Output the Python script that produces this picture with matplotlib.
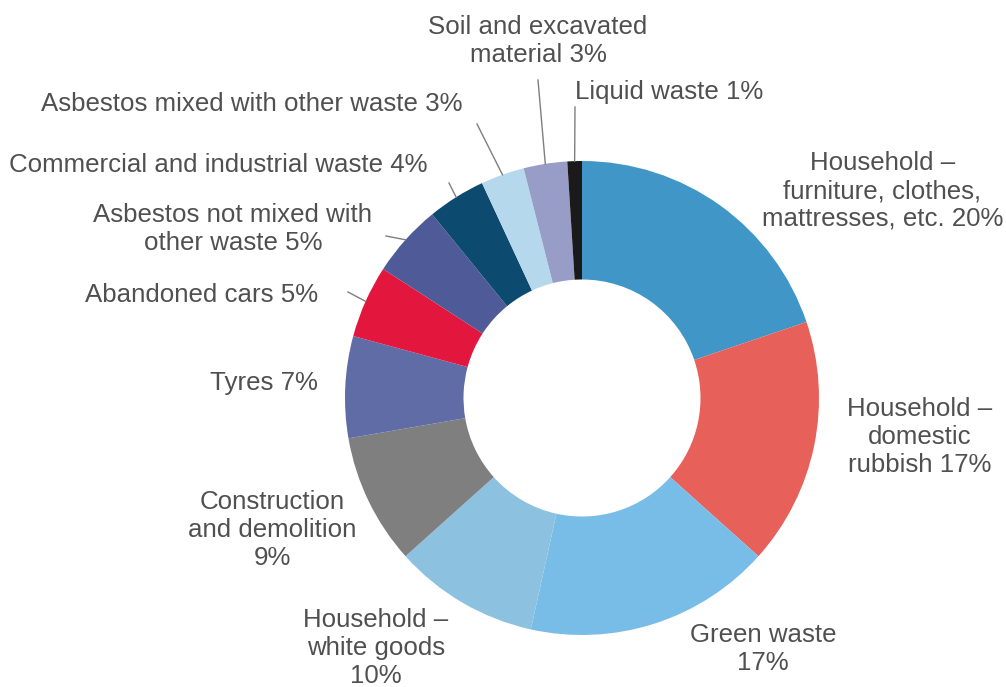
import numpy as np
import matplotlib
matplotlib.use('Agg')
import matplotlib.pyplot as plt

plt.rcParams['font.family'] = ['Liberation Sans', 'DejaVu Sans']

# 数据
categories = ['Household –\nfurniture, clothes,\nmattresses, etc.',
              'Household –\ndomestic\nrubbish',
              'Green waste',
              'Household –\nwhite goods',
              'Construction\nand demolition',
              'Tyres',
              'Abandoned cars',
              'Asbestos not mixed with\nother waste',
              'Commercial and industrial waste',
              'Asbestos mixed with other waste',
              'Soil and excavated\nmaterial',
              'Liquid waste']
shares = [20, 17, 17, 10, 9, 7, 5, 5, 4, 3, 3, 1]
colors = ['#4196C8', '#E8605A', '#78BDE8', '#8DC1E0', '#7F7F7F', '#5F6CA6',
          '#E3173E', '#4F5B98', '#0D4A70', '#B5D8EC', '#979DC6', '#1A1A1A']

# 标签文字（位置为像素坐标）
label_texts = ['Household –\nfurniture, clothes,\nmattresses, etc. 20%',
               'Household –\ndomestic\nrubbish 17%',
               'Green waste\n17%',
               'Household –\nwhite goods\n10%',
               'Construction\nand demolition\n9%',
               'Tyres 7%',
               'Abandoned cars 5%',
               'Asbestos not mixed with\nother waste 5%',
               'Commercial and industrial waste 4%',
               'Asbestos mixed with other waste 3%',
               'Soil and excavated\nmaterial 3%',
               'Liquid waste 1%']
label_pos = [(1003, 191, 'right'), (920, 437, 'center'), (763, 649, 'center'),
             (376, 648, 'center'), (272, 530, 'center'), (318, 383, 'right'),
             (318, 295, 'right'), (233, 229, 'center'), (428, 165, 'right'),
             (463, 104, 'right'), (538, 41, 'center'), (575, 92, 'left')]
# 引线起点（None 表示无引线）
leader_start = [None, None, None, None, None, None, (348, 292), (386, 236),
                (449, 183), (477, 124), (538, 80), (575, 107)]

W, H = 1006, 687
cx, cy, R = 582, 398, 237


def Y(y):
    return H - y


fig = plt.figure(figsize=(W / 100, H / 100), dpi=100)
ax = fig.add_axes([0, 0, 1, 1])

wedges, _ = ax.pie(shares, colors=colors, startangle=90, counterclock=False,
                   radius=R, center=(cx, Y(cy)),
                   wedgeprops=dict(width=R * 0.5, linewidth=0))

ax.set_xlim(0, W)
ax.set_ylim(0, H)
ax.set_aspect('equal')
ax.axis('off')

text_color = '#505050'
for i, text in enumerate(label_texts):
    x, y, ha = label_pos[i]
    ax.text(x, Y(y), text, ha=ha, va='center', fontsize=18.6,
            color=text_color, linespacing=1.2, multialignment='center')
    if leader_start[i] is not None:
        w = wedges[i]
        mid = np.deg2rad((w.theta1 + w.theta2) / 2)
        ex = cx + R * np.cos(mid)
        ey = Y(cy) + R * np.sin(mid)
        sx, sy = leader_start[i]
        ax.plot([sx, ex], [Y(sy), ey], color='#7F7F7F', linewidth=1)

plt.savefig('out.png', dpi=100)
